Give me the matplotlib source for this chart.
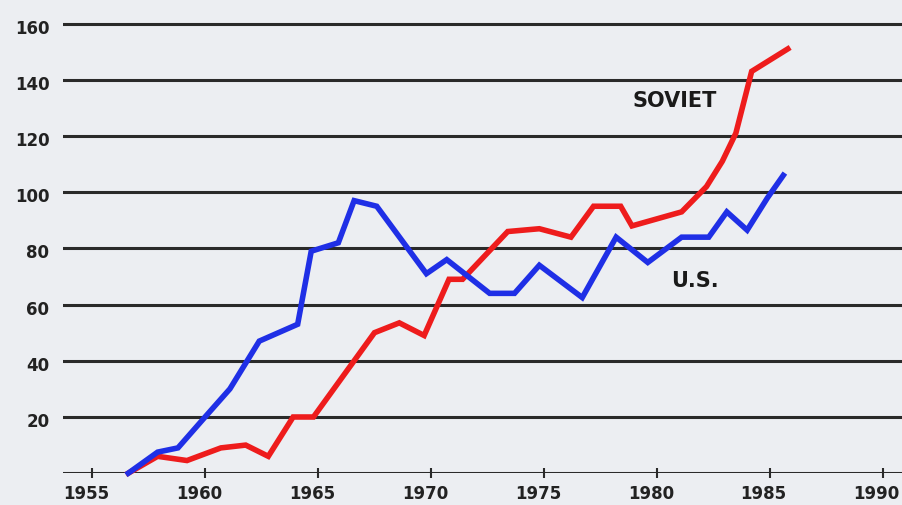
import matplotlib
matplotlib.use("Agg")
import matplotlib.pyplot as plt
from matplotlib.transforms import ScaledTranslation

# year positions and values
us_years = [1956.6, 1957.9, 1958.8, 1960.0, 1961.1, 1962.4, 1964.1, 1964.7,
            1965.9, 1966.6, 1967.6, 1969.8, 1970.7, 1972.6, 1973.7, 1974.8,
            1976.7, 1978.2, 1979.6, 1981.1, 1982.3, 1983.1, 1984.0, 1984.9,
            1985.6]
us_values = [0, 7.5, 9, 20, 30, 47, 53, 79,
             82, 97, 95, 71, 76, 64, 64, 74,
             62.5, 84, 75, 84, 84, 93, 86.5, 98,
             106]

soviet_years = [1956.6, 1957.9, 1959.2, 1960.7, 1961.8, 1962.8, 1963.9, 1964.8,
                1967.5, 1968.6, 1969.7, 1970.8, 1971.4, 1973.4, 1974.8, 1976.2,
                1977.2, 1978.4, 1978.9, 1981.1, 1982.2, 1982.9, 1983.5, 1984.2,
                1985.8]
soviet_values = [0, 6, 4.5, 9, 10, 6, 20, 20,
                 50, 53.5, 49, 69, 69, 86, 87, 84,
                 95, 95, 88, 93, 102, 111, 121, 143,
                 151]

x_ticks = [1955, 1960, 1965, 1970, 1975, 1980, 1985, 1990]
y_ticks = [20, 40, 60, 80, 100, 120, 140, 160]

bg = "#eceef2"
fig = plt.figure(figsize=(9.03, 5.05), dpi=100, facecolor=bg)
ax = fig.add_axes([0.07, 0.063, 0.93, 0.937], facecolor=bg)

for y in [0] + y_ticks:
    ax.axhline(y, color="#2a2a2a", lw=2.2, zorder=1)

ax.plot(us_years, us_values, color="#1f2fe6", lw=4, zorder=3,
        solid_joinstyle="miter", clip_on=False)
ax.plot(soviet_years, soviet_values, color="#ee1c1c", lw=4, zorder=2,
        solid_joinstyle="miter", clip_on=False)

ax.text(1980.8, 132.5, "SOVIET", ha="center", va="center",
        fontsize=15, fontweight="bold", color="#1a1a1a")
ax.text(1981.7, 68.5, "U.S.", ha="center", va="center",
        fontsize=15, fontweight="bold", color="#1a1a1a")

ax.set_xlim(1953.72, 1990.9)
ax.set_ylim(0, 168.4)
ax.set_xticks(x_ticks)
ax.set_yticks(y_ticks)
ax.tick_params(axis="x", direction="inout", length=7, width=1.5,
               color="#2a2a2a", pad=5, labelsize=12, labelcolor="#222222")
ax.tick_params(axis="y", length=0, pad=10, labelsize=12,
               labelcolor="#222222")
shift_x = ScaledTranslation(-6 / 100, 0, fig.dpi_scale_trans)
shift_y = ScaledTranslation(0, -3 / 100, fig.dpi_scale_trans)
for lab in ax.get_xticklabels():
    lab.set_fontweight("bold")
    lab.set_transform(lab.get_transform() + shift_x)
for lab in ax.get_yticklabels():
    lab.set_fontweight("bold")
    lab.set_transform(lab.get_transform() + shift_y)
for s in ax.spines.values():
    s.set_visible(False)

fig.savefig("out.png", dpi=100, facecolor=bg)
